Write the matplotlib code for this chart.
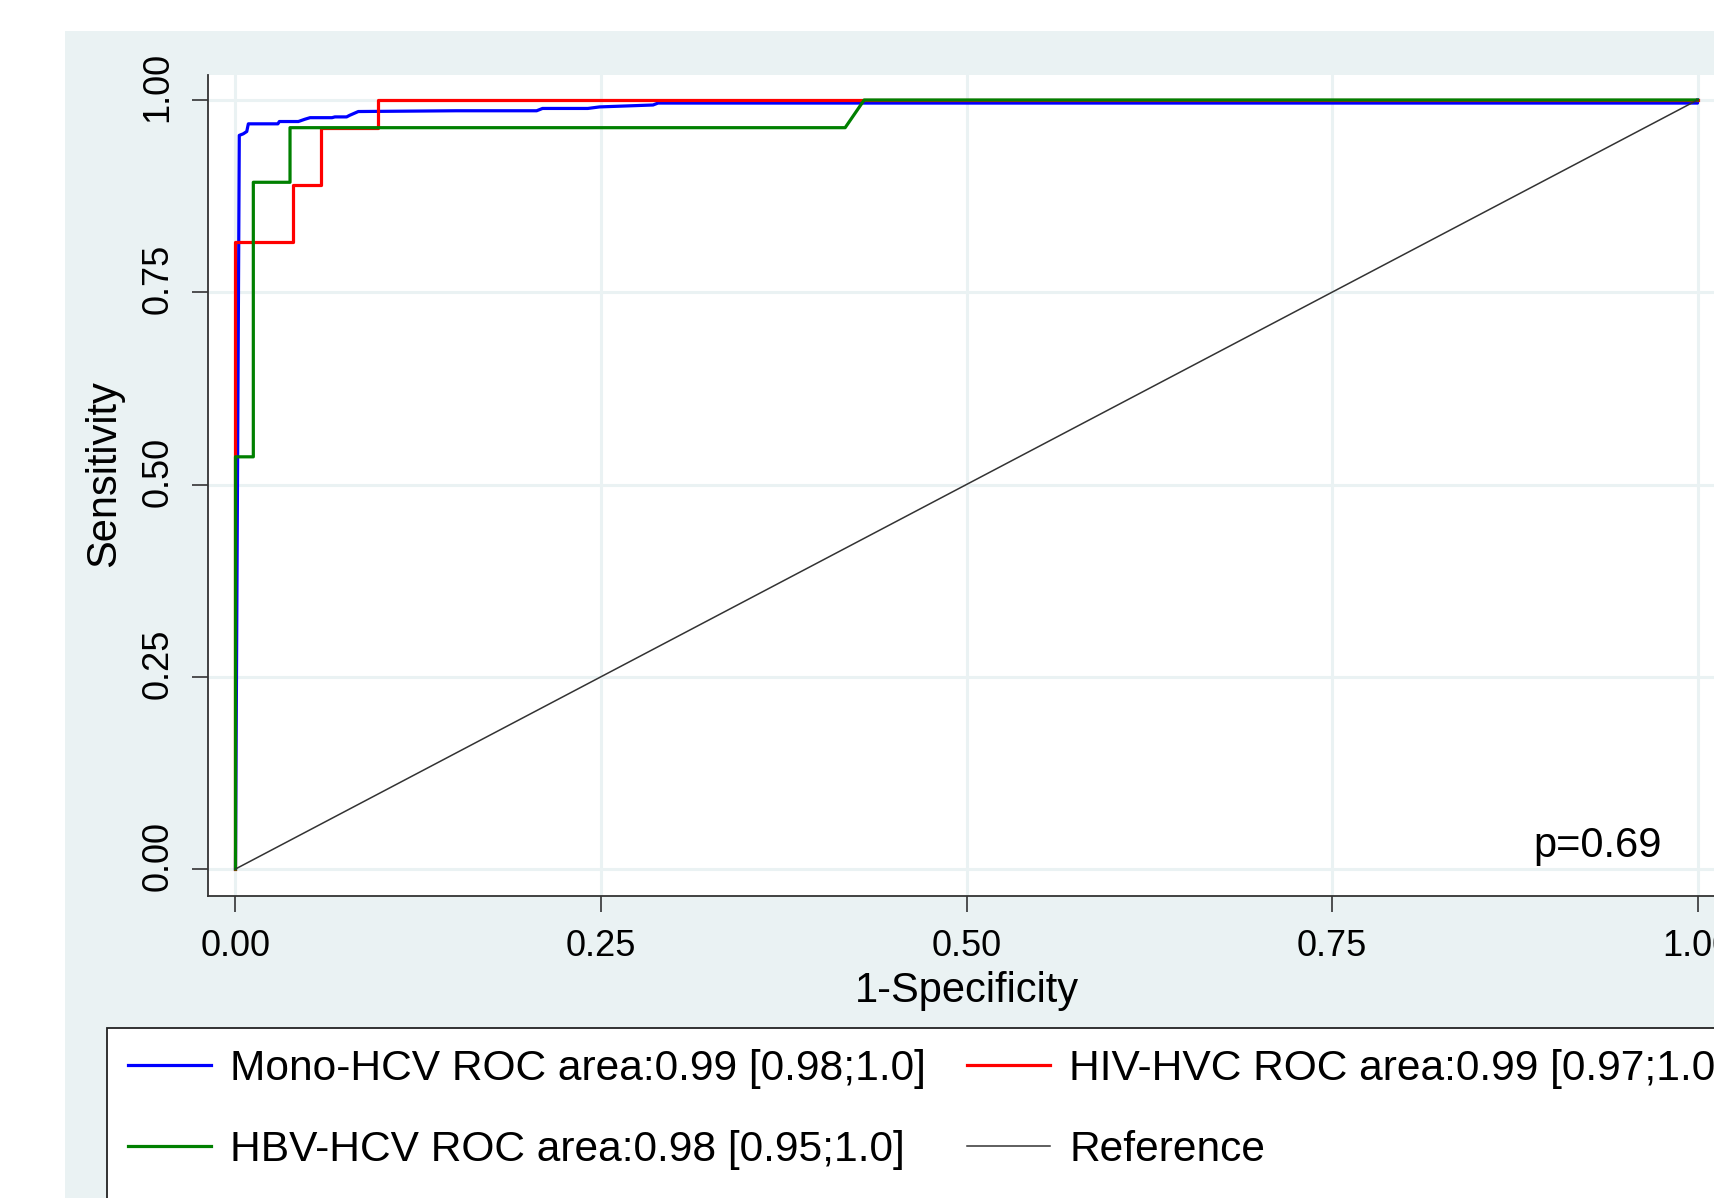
import matplotlib
matplotlib.use("Agg")
import matplotlib.pyplot as plt
from matplotlib.patches import Rectangle
from matplotlib.transforms import ScaledTranslation

plt.rcParams['font.family'] = ['Liberation Sans', 'DejaVu Sans']

# ROC points (1-specificity, sensitivity)
mono_fpr = [0.0, 0.0026, 0.0053, 0.0077, 0.0088, 0.029, 0.030, 0.043, 0.0475, 0.051,
            0.066, 0.068, 0.076, 0.078, 0.084, 0.151, 0.206, 0.210, 0.241, 0.249,
            0.2856, 0.289, 1.0, 1.0]
mono_tpr = [0.0, 0.954, 0.956, 0.959, 0.969, 0.969, 0.972, 0.972, 0.975, 0.977,
            0.977, 0.978, 0.978, 0.980, 0.985, 0.986, 0.986, 0.989, 0.989, 0.991,
            0.9935, 0.996, 0.996, 1.0]

hiv_fpr = [0.0, 0.0, 0.039, 0.039, 0.0587, 0.0587, 0.0977, 0.0977, 1.0]
hiv_tpr = [0.0, 0.815, 0.815, 0.889, 0.889, 0.963, 0.963, 1.0, 1.0]

hbv_fpr = [0.0, 0.0, 0.0122, 0.0122, 0.0373, 0.0373, 0.417, 0.430, 1.0]
hbv_tpr = [0.0, 0.536, 0.536, 0.893, 0.893, 0.964, 0.964, 1.0, 1.0]

ref_x = [0.0, 1.0]
ref_y = [0.0, 1.0]

labels = ['Mono-HCV ROC area:0.99 [0.98;1.0]',
          'HIV-HVC ROC area:0.99 [0.97;1.0]',
          'HBV-HCV ROC area:0.98 [0.95;1.0]',
          'Reference']
ticks = [0.0, 0.25, 0.5, 0.75, 1.0]
tick_labels = ['0.00', '0.25', '0.50', '0.75', '1.00']

W, H = 1715, 1198
fig = plt.figure(figsize=(W / 100, H / 100), dpi=100)
# stata-like graph region (runs off the right and bottom edges)
fig.patches.append(Rectangle((65 / W, 0), 1.0, 1 - 31 / H, transform=fig.transFigure,
                             facecolor='#EAF2F3', edgecolor='none', zorder=-5))
# legend box, also cut by the edges
fig.patches.append(Rectangle((107 / W, -0.05), 1.0, 1.05 - 1028 / H, transform=fig.transFigure,
                             facecolor='white', edgecolor='#222222', lw=1.3, zorder=-4))

ax = fig.add_axes([208 / W, 302 / H, 1517 / W, 821 / H])
ax.set_facecolor('white')

l_mono, = ax.plot(mono_fpr, mono_tpr, color='#0000FF', lw=2.3, zorder=3)
l_hiv, = ax.plot(hiv_fpr, hiv_tpr, color='#FF0000', lw=2.3, zorder=3)
l_hbv, = ax.plot(hbv_fpr, hbv_tpr, color='#008000', lw=2.3, zorder=3)
l_ref, = ax.plot(ref_x, ref_y, color='#333333', lw=1.1, zorder=4)

ax.set_xlim(-0.0188, 1.0188)
ax.set_ylim(-0.0351, 1.0325)
ax.set_xticks(ticks)
ax.set_xticklabels(tick_labels)
ax.set_yticks(ticks)
ax.set_yticklabels(tick_labels, rotation=90, va='center')
ax.grid(True, color='#EAF2F3', lw=2.2, zorder=1)
ax.set_axisbelow(True)

for s in ['top', 'right']:
    ax.spines[s].set_visible(False)
for s in ['left', 'bottom']:
    ax.spines[s].set_color('#333333')
    ax.spines[s].set_linewidth(1.3)

ax.tick_params(axis='both', direction='out', length=11.5, width=1.2, color='#333333',
               labelsize=26, pad=12)
for lab in ax.get_yticklabels():
    lab.set_transform(lab.get_transform() + ScaledTranslation(0, 0.13, fig.dpi_scale_trans))

ax.set_xlabel('1-Specificity', fontsize=30, labelpad=5)
ax.set_ylabel('Sensitivity', fontsize=30)
ax.yaxis.set_label_coords(-0.0554, 0.515)

ax.text(0.9757, 0.016, 'p=0.69', fontsize=30, ha='right', va='baseline', zorder=5)

leg = fig.legend([l_mono, l_hbv, l_hiv, l_ref], [labels[0], labels[2], labels[1], labels[3]],
                 loc='upper left', bbox_to_anchor=(107 / W, 1 - 1028 / H), ncol=2,
                 fontsize=30.6, frameon=False, borderpad=0.5, handlelength=1.95,
                 handletextpad=0.45, columnspacing=0.97, labelspacing=0.95,
                 borderaxespad=0)

fig.savefig('out.png', dpi=100)
